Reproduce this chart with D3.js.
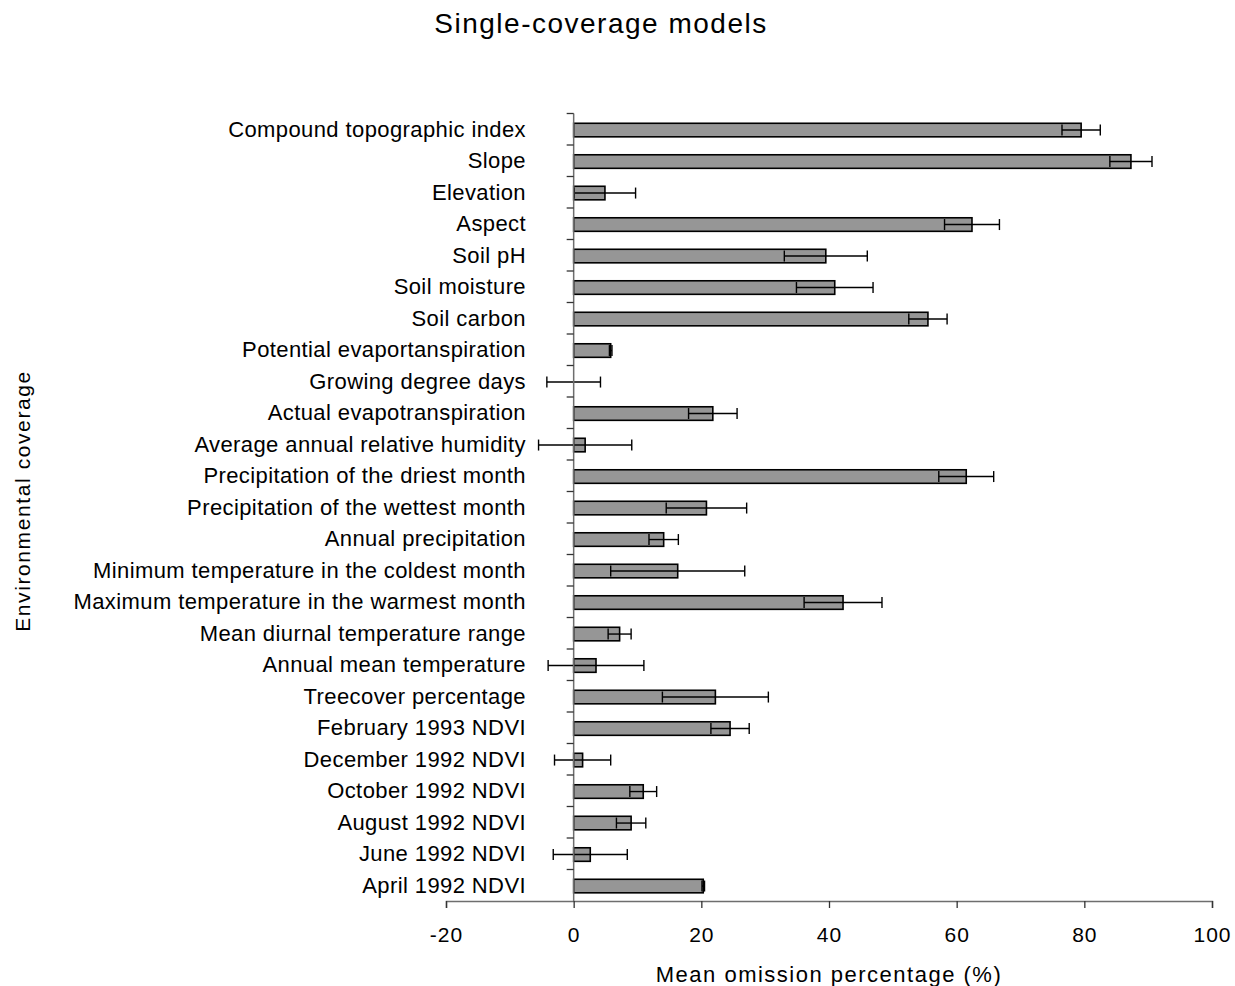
<!DOCTYPE html>
<html><head><meta charset="utf-8">
<script src="https://cdn.jsdelivr.net/npm/d3@7"></script>
<style>body{margin:0;background:#fff}svg text{font-family:"Liberation Sans",Arial,sans-serif;fill:#000}</style>
</head><body>
<svg id="c" width="1235" height="986"></svg>
<script>
const categories = ["Compound topographic index","Slope","Elevation","Aspect","Soil pH","Soil moisture","Soil carbon","Potential evaportanspiration","Growing degree days","Actual evapotranspiration","Average annual relative humidity","Precipitation of the driest month","Precipitation of the wettest month","Annual precipitation","Minimum temperature in the coldest month","Maximum temperature in the warmest month","Mean diurnal temperature range","Annual mean temperature","Treecover percentage","February 1993 NDVI","December 1992 NDVI","October 1992 NDVI","August 1992 NDVI","June 1992 NDVI","April 1992 NDVI"];
const values = [79.5,87.3,4.9,62.4,39.5,40.9,55.5,5.8,0,21.8,1.8,61.5,20.8,14.1,16.3,42.2,7.2,3.5,22.2,24.5,1.4,10.9,9.0,2.6,20.3];
const errors = [3.0,3.3,4.8,4.3,6.5,6.0,3.0,0.2,4.2,3.8,7.3,4.3,6.3,2.3,10.5,6.1,1.8,7.5,8.3,3.0,4.4,2.1,2.3,5.8,0.2];
const xTicks = [-20,0,20,40,60,80,100];
const title = "Single-coverage models";
const xTitle = "Mean omission percentage (%)";
const yTitle = "Environmental coverage";

const svg = d3.select("#c");
const x = d3.scaleLinear().domain([-20,100]).range([446,1212]);
const y = d3.scaleBand().domain(categories).range([113.5,901]).padding(0);
const bh = y.bandwidth()*0.43;
const data = categories.map((c,i)=>({c,v:values[i],e:errors[i]}));
const cyOf = c => y(c)+y.bandwidth()/2+0.8;

// bars
svg.append("g").selectAll("rect").data(data).join("rect")
  .attr("x", d=>x(Math.min(0,d.v)))
  .attr("y", d=>cyOf(d.c)-bh/2)
  .attr("width", d=>Math.abs(x(d.v)-x(0)))
  .attr("height", bh)
  .attr("fill","#969696").attr("stroke","#000").attr("stroke-width",1.6);

// error bars
const eg = svg.append("g").attr("stroke","#000").attr("stroke-width",1.4);
data.forEach(d=>{
  const cy = cyOf(d.c);
  eg.append("line").attr("x1",x(d.v-d.e)).attr("x2",x(d.v+d.e)).attr("y1",cy).attr("y2",cy);
  [d.v-d.e,d.v+d.e].forEach(t=>{
    eg.append("line").attr("x1",x(t)).attr("x2",x(t)).attr("y1",cy-5.5).attr("y2",cy+5.5);
  });
});

// y axis
const yAxisG = svg.append("g").attr("transform",`translate(${x(0)},0)`);
yAxisG.append("line").attr("x1",0).attr("x2",0).attr("y1",113.5).attr("y2",901).attr("stroke","#6e6e6e").attr("stroke-width",1.5);
yAxisG.selectAll("line.t").data(categories.map(c=>y(c))).join("line").attr("class","t")
  .attr("x1",-7).attr("x2",0).attr("y1",d=>d).attr("y2",d=>d).attr("stroke","#333").attr("stroke-width",1.3);
svg.append("g").selectAll("text").data(categories).join("text")
  .attr("x",526).attr("y",d=>cyOf(d)).attr("dy","0.3em")
  .attr("text-anchor","end").attr("font-size",22).attr("letter-spacing",0.4).text(d=>d);

// x axis
const xAxis = d3.axisBottom(x).tickValues(xTicks).tickSize(7).tickPadding(19).tickFormat(d=>String(d));
const xg = svg.append("g").attr("transform","translate(0,901)").call(xAxis);
xg.select(".domain").attr("stroke","#6e6e6e").attr("stroke-width",1.5);
xg.selectAll(".tick line").attr("stroke","#333").attr("stroke-width",1.3);
xg.selectAll(".tick text").attr("font-size",21).attr("letter-spacing",1).attr("font-family","Liberation Sans, Arial, sans-serif").attr("fill","#000");

// titles
svg.append("text").attr("x",601).attr("y",33).attr("text-anchor","middle").attr("font-size",28).attr("letter-spacing",1.5).text(title);
svg.append("text").attr("x",829).attr("y",982).attr("text-anchor","middle").attr("font-size",22).attr("letter-spacing",1.5).text(xTitle);
svg.append("text").attr("transform","translate(30,501) rotate(-90)").attr("text-anchor","middle").attr("font-size",21).attr("letter-spacing",1.6).text(yTitle);
</script>
</body></html>
